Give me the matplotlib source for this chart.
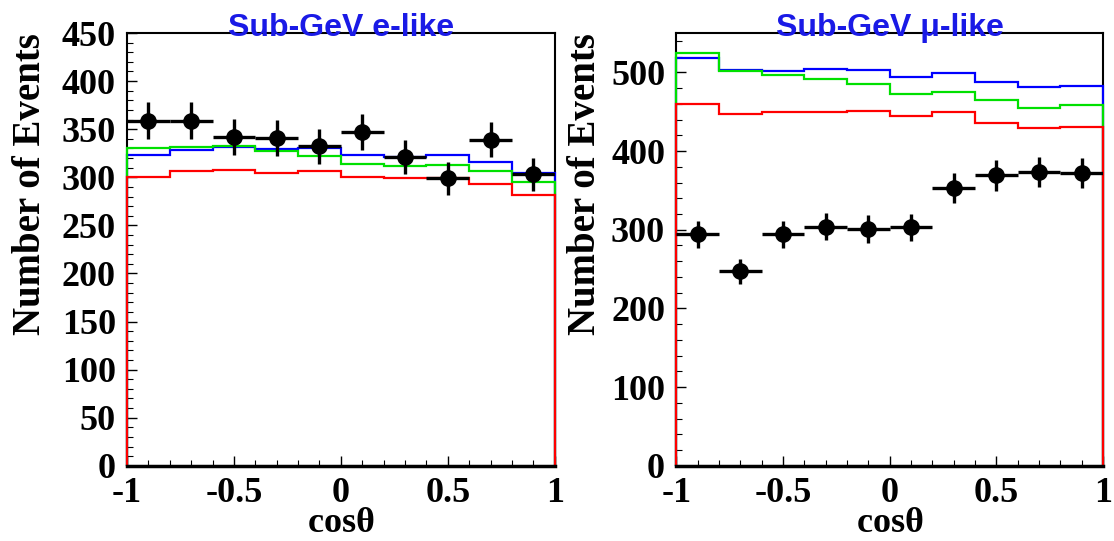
import matplotlib.pyplot as plt
import numpy as np
from matplotlib.ticker import MultipleLocator

# bin edges in cos(theta), 10 bins
edges = np.linspace(-1, 1, 11)
centers = 0.5 * (edges[:-1] + edges[1:])

# Sub-GeV e-like
e_data = [359, 359, 342, 341, 332, 347, 321, 299, 339, 303]
e_blue = [323, 328, 331, 329, 330, 323, 321, 323, 316, 304]
e_green = [330, 331, 333, 327, 322, 314, 312, 313, 306, 295]
e_red = [300, 306, 308, 304, 306, 300, 299, 299, 293, 282]

# Sub-GeV mu-like
mu_data = [294, 247, 294, 304, 301, 303, 353, 369, 373, 372]
mu_blue = [518, 503, 502, 504, 503, 494, 499, 488, 481, 483]
mu_green = [524, 502, 496, 491, 485, 473, 475, 465, 455, 459]
mu_red = [460, 447, 449, 450, 451, 445, 449, 436, 429, 430]

serif = 'Liberation Serif'
sans = 'Liberation Sans'


def panel(ax, title, data, blue, green, red, ymax, ymajor, yminor, ylab_x):
    ax.stairs(blue, edges, baseline=0, color='#0000ff', lw=1.6, zorder=3, clip_on=False)
    ax.stairs(green, edges, baseline=0, color='#00e000', lw=1.6, zorder=3, clip_on=False)
    ax.stairs(red, edges, baseline=0, color='#ff0000', lw=1.6, zorder=3, clip_on=False)
    ax.errorbar(centers, data, xerr=0.1, yerr=np.sqrt(data), fmt='o', color='black',
                markersize=11, elinewidth=2.4, capsize=0, zorder=5)

    ax.set_xlim(-1, 1)
    ax.set_ylim(0, ymax)
    ax.xaxis.set_major_locator(MultipleLocator(0.5))
    ax.xaxis.set_minor_locator(MultipleLocator(0.1))
    ax.yaxis.set_major_locator(MultipleLocator(ymajor))
    ax.yaxis.set_minor_locator(MultipleLocator(yminor))
    ax.set_xticks([-1, -0.5, 0, 0.5, 1])
    ax.set_xticklabels(['-1', '-0.5', '0', '0.5', '1'])
    ax.tick_params(which='major', direction='in', length=7, width=1, pad=8,
                   labelsize=26, colors='black')
    ax.tick_params(which='minor', direction='in', length=4, width=0.8)
    for lab in ax.get_xticklabels() + ax.get_yticklabels():
        lab.set_fontfamily(serif)
        lab.set_fontweight('bold')
    for sp in ax.spines.values():
        sp.set_linewidth(1.5)
    ax.spines['bottom'].set_linewidth(2.5)
    ax.spines['bottom'].set_zorder(4)

    ax.set_xlabel(r'cos$\mathbf{\theta}$', fontsize=26, fontfamily=serif,
                  fontweight='bold', labelpad=-2)
    ax.set_ylabel('Number of Events', fontsize=28, fontfamily=serif,
                  fontweight='bold', loc='top')
    ax.yaxis.set_label_coords(ylab_x, 1.0)
    ax.yaxis.label.set_va('center')
    ax.text(0.5, 0.992, title, transform=ax.transAxes, ha='center', va='baseline',
            fontsize=23, fontfamily=sans, fontweight='bold', color='#1a1ae6')


plt.rcParams['mathtext.fontset'] = 'custom'
plt.rcParams['mathtext.bf'] = 'Liberation Serif:bold'
plt.rcParams['mathtext.rm'] = 'Liberation Serif:bold'

fig = plt.figure(figsize=(11.14, 5.41), dpi=100)
ax1 = fig.add_axes([0.114, 0.139, 0.384, 0.800])
ax2 = fig.add_axes([0.607, 0.139, 0.383, 0.800])

panel(ax1, 'Sub-GeV e-like', e_data, e_blue, e_green, e_red, 450, 50, 10, -0.225)
panel(ax2, 'Sub-GeV \u03bc-like', mu_data, mu_blue, mu_green, mu_red, 550, 100, 20, -0.212)

fig.savefig('out.png', dpi=100)
